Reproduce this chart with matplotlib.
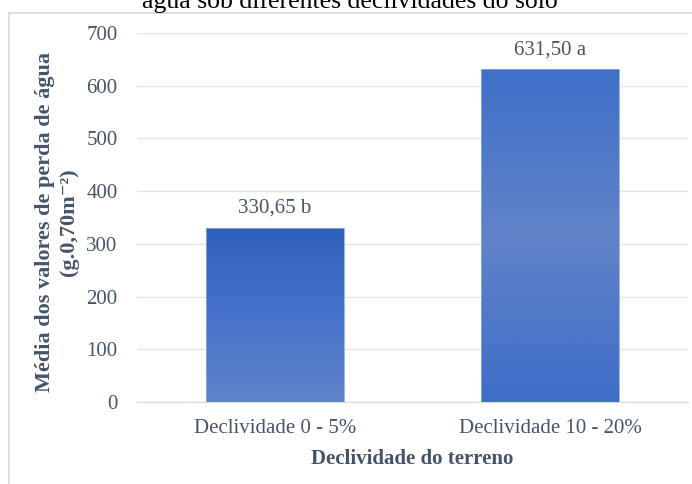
import numpy as np
import matplotlib.pyplot as plt
from matplotlib.colors import LinearSegmentedColormap
from matplotlib.lines import Line2D

categorias = ['Declividade 0 - 5%', 'Declividade 10 - 20%']
valores = [330.65, 631.50]
letras = ['b', 'a']
yticks = [0, 100, 200, 300, 400, 500, 600, 700]

plt.rcParams['font.family'] = ['Liberation Serif', 'DejaVu Serif']
cor_texto = '#44546A'

fig = plt.figure(figsize=(6.92, 4.84), dpi=100)
ax = fig.add_axes([137/692, 1 - 402/484, 551/692, 369/484])

x = np.arange(len(categorias))
barras = ax.bar(x, valores, width=0.5, facecolor='none', edgecolor='#8FA8DC', linewidth=0.6, zorder=3)

# gradientes (tipo Excel)
grad1 = LinearSegmentedColormap.from_list('g1', ['#6083C9', '#4773CB', '#2E61BB'])
grad2 = LinearSegmentedColormap.from_list('g2', ['#3E6EC8', '#6183C8', '#3E70C9'])
for barra, cmap in zip(barras, [grad1, grad2]):
    x0 = barra.get_x()
    w = barra.get_width()
    h = barra.get_height()
    img = ax.imshow(np.linspace(0, 1, 256).reshape(-1, 1), cmap=cmap, origin='lower',
                    extent=[x0, x0 + w, 0, h], aspect='auto', zorder=2)
    img.set_clip_path(barra)

for xi, v, l in zip(x, valores, letras):
    ax.annotate(f'{v:.2f}'.replace('.', ',') + ' ' + l, (xi, v), xytext=(0, 7),
                textcoords='offset points', ha='center', va='bottom',
                fontsize=15, color=cor_texto)

ax.set_xlim(-0.5, 1.5)
ax.set_ylim(0, 700)
ax.set_yticks(yticks)
ax.set_xticks(x)
ax.set_xticklabels(categorias)
ax.tick_params(axis='both', length=0, labelsize=15, labelcolor=cor_texto)
ax.tick_params(axis='x', pad=12)
ax.tick_params(axis='y', pad=14)
ax.grid(axis='y', color='#E4E5EA', linewidth=1, zorder=0)
ax.set_axisbelow(True)
for s in ['top', 'right', 'left']:
    ax.spines[s].set_visible(False)
ax.spines['bottom'].set_color('#D9D9D9')

ax.set_xlabel('Declividade do terreno', fontsize=15, fontweight='bold', color=cor_texto, labelpad=8)
fig.text(57/692, 1 - 222/484, 'Média dos valores de perda de água\n(g.0,70m⁻²)', fontsize=16,
         fontweight='bold', color=cor_texto, rotation=90, ha='center', va='center',
         multialignment='center', linespacing=1.2)

# titulo cortado no topo
fig.text(350/692, 1 - 8/484, 'água sob diferentes declividades do solo', ha='center',
         va='baseline', fontsize=18.5, color='black')

# borda da area do grafico
fig.add_artist(Line2D([9/692, 1.0], [1 - 13/484, 1 - 13/484], color='#D9D9D9', linewidth=1.2))
fig.add_artist(Line2D([9/692, 9/692], [0, 1 - 13/484], color='#D9D9D9', linewidth=1.2))

fig.savefig('out.png', dpi=100)
